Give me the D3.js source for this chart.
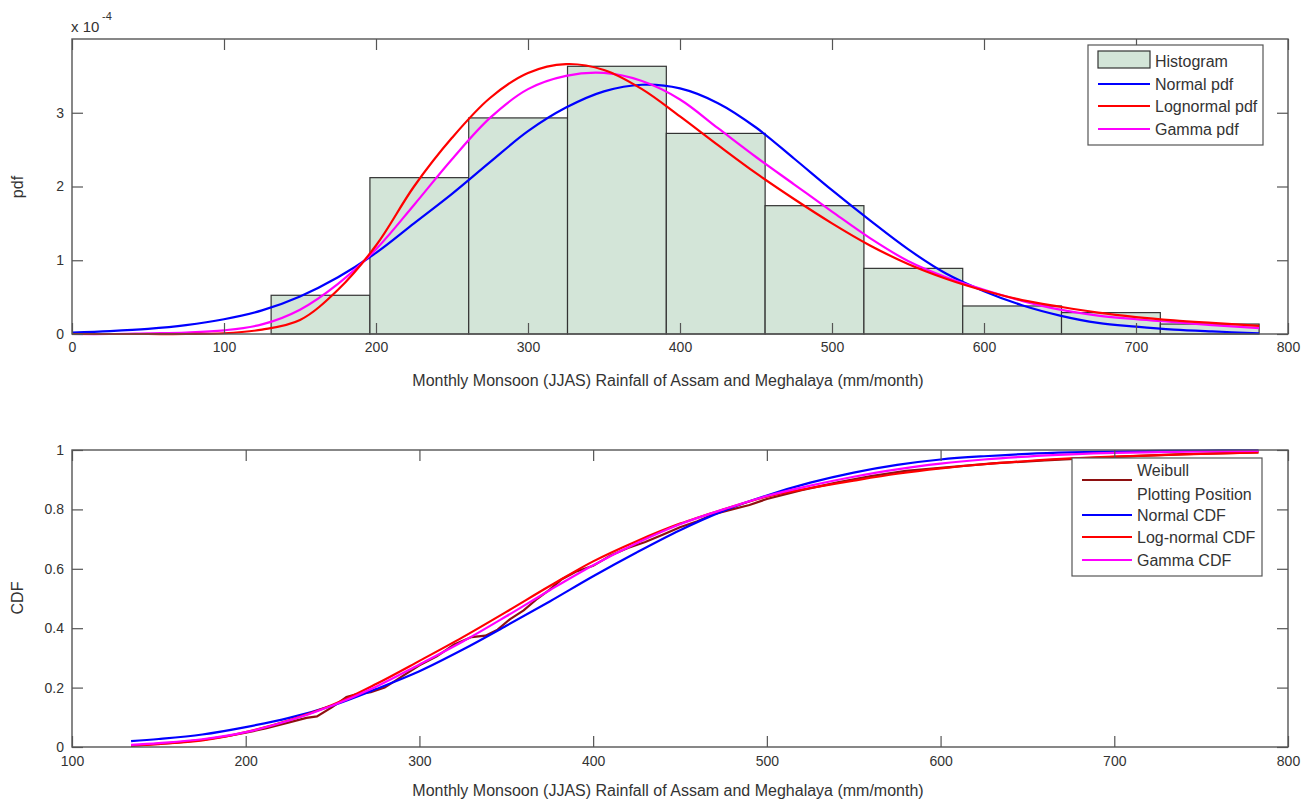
<!DOCTYPE html>
<html><head><meta charset="utf-8">
<script src="https://cdn.jsdelivr.net/npm/d3@7"></script>
<style>
body{margin:0;background:#fff;}
svg text{font-family:"Liberation Sans",Arial,sans-serif;fill:#333;}
</style></head>
<body><svg id="c" width="1305" height="800"></svg>
<script>
// ---------- DATA ----------
const binEdges = [131, 196, 261, 326, 391, 456, 521, 586, 651, 716, 781];
const binHeights = [0.525, 2.12, 2.93, 3.63, 2.72, 1.74, 0.89, 0.38, 0.29, 0.135]; // x 1e-4

const pdfX       = [0, 25, 50, 75, 100, 125, 150, 175, 200, 225, 250, 275, 300, 325, 350, 375, 400, 425, 450, 475, 500, 525, 550, 575, 600, 625, 650, 675, 700, 725, 750, 781];
const normalPdf  = [0.02, 0.04, 0.07, 0.12, 0.20, 0.32, 0.51, 0.77, 1.10, 1.50, 1.90, 2.33, 2.75, 3.07, 3.29, 3.38, 3.33, 3.13, 2.80, 2.38, 1.95, 1.54, 1.15, 0.82, 0.58, 0.39, 0.25, 0.15, 0.10, 0.06, 0.035, 0.01];
const lognormPdf = [0, 0, 0, 0, 0.01, 0.06, 0.19, 0.60, 1.20, 2.00, 2.66, 3.20, 3.54, 3.66, 3.58, 3.32, 2.95, 2.56, 2.18, 1.83, 1.50, 1.20, 0.95, 0.75, 0.59, 0.46, 0.37, 0.29, 0.23, 0.185, 0.15, 0.11];
const gammaPdf   = [0, 0, 0.01, 0.02, 0.05, 0.13, 0.33, 0.68, 1.15, 1.75, 2.37, 2.93, 3.32, 3.50, 3.54, 3.43, 3.18, 2.79, 2.40, 2.03, 1.66, 1.30, 0.99, 0.77, 0.60, 0.45, 0.33, 0.25, 0.20, 0.16, 0.12, 0.08];

const cdfX       = [134, 150, 175, 200, 225, 250, 275, 300, 325, 350, 375, 400, 425, 450, 475, 500, 525, 550, 575, 600, 625, 650, 675, 700, 750, 783];
const normalCdf  = [0.02, 0.027, 0.042, 0.067, 0.098, 0.14, 0.195, 0.255, 0.328, 0.408, 0.49, 0.575, 0.655, 0.73, 0.795, 0.847, 0.89, 0.924, 0.95, 0.968, 0.979, 0.987, 0.992, 0.995, 0.998, 0.999];
const lognormCdf = [0.005, 0.01, 0.022, 0.05, 0.09, 0.142, 0.212, 0.29, 0.37, 0.455, 0.542, 0.625, 0.693, 0.752, 0.80, 0.843, 0.872, 0.897, 0.92, 0.938, 0.952, 0.963, 0.972, 0.978, 0.987, 0.992];
const gammaCdf   = [0.007, 0.013, 0.026, 0.05, 0.089, 0.14, 0.203, 0.278, 0.355, 0.44, 0.528, 0.612, 0.686, 0.75, 0.80, 0.845, 0.88, 0.91, 0.935, 0.954, 0.968, 0.978, 0.985, 0.99, 0.995, 0.997];

const weibullX = [134, 145, 160, 175, 190, 200, 212, 225, 235, 241, 250, 258, 264, 272, 280, 290, 300, 310, 320, 330, 338, 345, 352, 360, 368, 375, 382, 390, 400, 410, 420, 430, 440, 450, 460, 470, 480, 490, 500, 520, 540, 560, 580, 600, 630, 660, 700, 740, 783];
const weibullP = [0.004, 0.009, 0.015, 0.024, 0.037, 0.048, 0.063, 0.083, 0.098, 0.103, 0.135, 0.168, 0.178, 0.185, 0.20, 0.238, 0.275, 0.305, 0.345, 0.37, 0.375, 0.395, 0.43, 0.46, 0.50, 0.53, 0.565, 0.59, 0.61, 0.645, 0.67, 0.69, 0.715, 0.74, 0.76, 0.785, 0.80, 0.815, 0.835, 0.865, 0.89, 0.912, 0.93, 0.94, 0.955, 0.965, 0.977, 0.986, 0.992];

const topXTicks = [0, 100, 200, 300, 400, 500, 600, 700, 800];
const topYTicks = [0, 1, 2, 3];
const botXTicks = [100, 200, 300, 400, 500, 600, 700, 800];
const botYTicks = [0, 0.2, 0.4, 0.6, 0.8, 1];

const xLabel = "Monthly Monsoon (JJAS) Rainfall of Assam and Meghalaya (mm/month)";
const pdfLegend = ["Histogram", "Normal pdf", "Lognormal pdf", "Gamma pdf"];
const cdfLegend = [["Weibull", "Plotting Position"], ["Normal CDF"], ["Log-normal CDF"], ["Gamma CDF"]];

// ---------- STYLE ----------
const C = {blue:"#0000ff", red:"#ff0000", mag:"#ff00ff", dred:"#8e1010", hist:"#d3e5d8", axis:"#555"};
const FS_LAB = 16, FS_TICK = 14;
const svg = d3.select("#c");

function frame(g, x, y, xt, yt, fmtY, xpad, ypad) {
  const [x0, x1] = x.range(), [y0, y1] = y.range();
  g.append("g").attr("transform", `translate(0,${y0})`)
    .call(d3.axisBottom(x).tickValues(xt).tickSize(-11).tickPadding(xpad).tickFormat(d3.format("d")));
  g.append("g").attr("transform", `translate(0,${y1})`)
    .call(d3.axisTop(x).tickValues(xt).tickSize(-11).tickFormat(""));
  g.append("g").attr("transform", `translate(${x0},0)`)
    .call(d3.axisLeft(y).tickValues(yt).tickSize(-11).tickPadding(ypad).tickFormat(fmtY));
  g.append("g").attr("transform", `translate(${x1},0)`)
    .call(d3.axisRight(y).tickValues(yt).tickSize(-11).tickFormat(""));
  g.selectAll(".domain").remove();
  g.selectAll(".tick line").attr("stroke", C.axis).attr("stroke-width", 1.2);
  g.selectAll(".tick text").attr("font-size", FS_TICK).attr("fill", "#333")
    .attr("font-family", '"Liberation Sans",Arial,sans-serif');
  g.append("rect").attr("x", x0).attr("y", y1).attr("width", x1 - x0).attr("height", y0 - y1)
    .attr("fill", "none").attr("stroke", C.axis).attr("stroke-width", 1.4);
}
const curve = d3.curveCatmullRom.alpha(0.5);

// ---------- TOP PANEL ----------
const xT = d3.scaleLinear().domain([0, 800]).range([72, 1288]);
const yT = d3.scaleLinear().domain([0, 4]).range([334, 39]);
const gT = svg.append("g");

gT.selectAll("rect.bar").data(binHeights).join("rect").attr("class", "bar")
  .attr("x", (d, i) => xT(binEdges[i])).attr("width", (d, i) => xT(binEdges[i + 1]) - xT(binEdges[i]))
  .attr("y", d => yT(d)).attr("height", d => yT(0) - yT(d))
  .attr("fill", C.hist).attr("stroke", "#333").attr("stroke-width", 1.2);

const lineT = d3.line().x(d => xT(d[0])).y(d => yT(Math.max(0, d[1]))).curve(curve);
[[normalPdf, C.blue], [gammaPdf, C.mag], [lognormPdf, C.red]].forEach(([v, col]) => {
  gT.append("path").datum(pdfX.map((x, i) => [x, v[i]])).attr("d", lineT)
    .attr("fill", "none").attr("stroke", col).attr("stroke-width", 2.2);
});
frame(gT, xT, yT, topXTicks, topYTicks, d3.format("d"), 8, 8);

svg.append("text").attr("x", 71).attr("y", 32).attr("font-size", 15).text("x 10");
svg.append("text").attr("x", 102).attr("y", 20).attr("font-size", 11).text("-4");
svg.append("text").attr("transform", "translate(23,187) rotate(-90)").attr("text-anchor", "middle")
  .attr("font-size", FS_LAB).text("pdf");
svg.append("text").attr("x", 668).attr("y", 386).attr("text-anchor", "middle").attr("font-size", FS_LAB).text(xLabel);

// legend top
const lgT = svg.append("g");
lgT.append("rect").attr("x", 1088).attr("y", 45).attr("width", 175).attr("height", 100)
  .attr("fill", "#fff").attr("stroke", C.axis).attr("stroke-width", 1.2);
const rowsT = [61, 84, 106, 129];
lgT.append("rect").attr("x", 1098).attr("y", 51).attr("width", 52).attr("height", 17)
  .attr("fill", C.hist).attr("stroke", "#333").attr("stroke-width", 1.2);
[C.blue, C.red, C.mag].forEach((col, i) => {
  lgT.append("line").attr("x1", 1098).attr("x2", 1150).attr("y1", rowsT[i + 1]).attr("y2", rowsT[i + 1])
    .attr("stroke", col).attr("stroke-width", 2.2);
});
pdfLegend.forEach((t, i) => lgT.append("text").attr("x", 1155).attr("y", rowsT[i] + 6).attr("font-size", FS_LAB).text(t));

// ---------- BOTTOM PANEL ----------
const xB = d3.scaleLinear().domain([100, 800]).range([72, 1288]);
const yB = d3.scaleLinear().domain([0, 1]).range([747, 450]);
const gB = svg.append("g");
const lineB = d3.line().x(d => xB(d[0])).y(d => yB(d[1])).curve(curve);
const lineW = d3.line().x(d => xB(d[0])).y(d => yB(d[1]));
gB.append("path").datum(weibullX.map((x, i) => [x, weibullP[i]])).attr("d", lineW)
  .attr("fill", "none").attr("stroke", C.dred).attr("stroke-width", 2.2);
[[normalCdf, C.blue], [lognormCdf, C.red], [gammaCdf, C.mag]].forEach(([v, col]) => {
  gB.append("path").datum(cdfX.map((x, i) => [x, v[i]])).attr("d", lineB)
    .attr("fill", "none").attr("stroke", col).attr("stroke-width", 2.2);
});
frame(gB, xB, yB, botXTicks, botYTicks, d => d === 0 || d === 1 ? d3.format("d")(d) : d3.format(".1f")(d), 9, 8);

svg.append("text").attr("transform", "translate(23,598) rotate(-90)").attr("text-anchor", "middle")
  .attr("font-size", FS_LAB).text("CDF");
svg.append("text").attr("x", 668).attr("y", 796).attr("text-anchor", "middle").attr("font-size", FS_LAB).text(xLabel);

// legend bottom
const lgB = svg.append("g");
lgB.append("rect").attr("x", 1072).attr("y", 458).attr("width", 190).attr("height", 118)
  .attr("fill", "#fff").attr("stroke", C.axis).attr("stroke-width", 1.2);
const lineRows = [480, 515, 537, 560];
[C.dred, C.blue, C.red, C.mag].forEach((col, i) => {
  lgB.append("line").attr("x1", 1082).attr("x2", 1132).attr("y1", lineRows[i]).attr("y2", lineRows[i])
    .attr("stroke", col).attr("stroke-width", 2.2);
});
const textRows = [[470, 494], [515], [537], [560]];
cdfLegend.forEach((lines, i) => lines.forEach((t, j) =>
  lgB.append("text").attr("x", 1137).attr("y", textRows[i][j] + 6).attr("font-size", FS_LAB).text(t)));
</script></body></html>
